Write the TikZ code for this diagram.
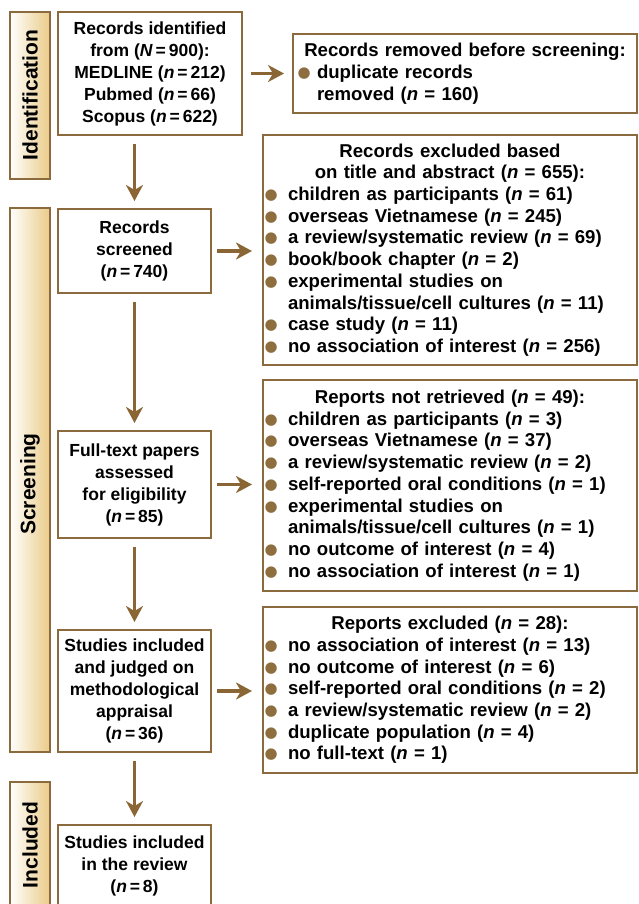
\documentclass[tikz,border=0pt]{standalone}
\usepackage{fontspec}
\setmainfont{Liberation Sans}
\newfontfamily\dotfont{DejaVu Sans}
\usetikzlibrary{arrows.meta}

\definecolor{framebrown}{HTML}{8B6B3E}
\definecolor{arrowbrown}{HTML}{8A6634}
\definecolor{dotbrown}{HTML}{8E6E3F}
\definecolor{bartan}{HTML}{EACB88}

% round brown bullet and a bulleted line for the exclusion lists
\newcommand\bulletdot{\raisebox{1pt}{\textcolor{dotbrown}{\dotfont\fontsize{15}{15}\selectfont ●}}}
\newcommand\dotitem[2][23pt]{\par\noindent\makebox[#1][l]{\hspace{-0.5pt}\bulletdot}#2\par}
\newcommand\wrapline[1][23pt]{\\\hspace*{#1}}

\tikzset{
  stage/.style={draw=framebrown, line width=2pt, left color=white, right color=bartan},
  stagelabel/.style={rotate=90, font=\fontsize{21}{24}\selectfont\bfseries},
  flowbox/.style={draw=framebrown, line width=2pt, fill=white, align=center,
    inner xsep=1pt, minimum width=153pt, font=\fontsize{17.5}{22}\selectfont\bfseries},
  notebox/.style={draw=framebrown, line width=2pt, fill=white, align=left,
    inner xsep=2pt, inner ysep=2pt, text width=370pt, font=\fontsize{18.6}{21.7}\selectfont\bfseries},
  flow/.style={draw=arrowbrown, line width=3.5pt, -{Stealth[length=16pt,width=17pt,inset=5pt]},
    shorten <=8pt, shorten >=7pt},
  sideflow/.style={flow, shorten <=5pt, shorten >=10pt},
}

\begin{document}
\begin{tikzpicture}[x=1pt, y=-1pt]
  \useasboundingbox (0,0) rectangle (638,904);
  \clip (0,0) rectangle (638,904);

  % stage bars on the left
  \path[stage] (10,12) rectangle (50,179);
  \path[stage] (10,208) rectangle (50,752);
  \path[stage] (10,782) rectangle (50,912);
  \node[stagelabel] (ident) at (30,95) {Identification};
  \node[stagelabel] (screen) at (30,484) {Screening};
  \node[stagelabel] (incl) at (30,845) {Included};

  % main flow
  \node[flowbox, minimum width=184pt, minimum height=123pt] (idbox) at (150,73.5)
    {Records identified\\from (\textit{N}\,=\,900):\\MEDLINE (\textit{n}\,=\,212)\\Pubmed (\textit{n}\,=\,66)\\Scopus (\textit{n}\,=\,622)};
  \node[flowbox, minimum height=84pt] (scrbox) at (134.5,251)
    {Records\\screened\\(\textit{n}\,=\,740)};
  \node[flowbox, minimum height=107pt] (ftbox) at (134.5,484.5)
    {Full-text papers\\assessed\\for eligibility\\(\textit{n}\,=\,85)};
  \node[flowbox, minimum height=122pt] (apprbox) at (134.5,691)
    {Studies included\\and judged on\\methodological\\appraisal\\(\textit{n}\,=\,36)};
  \node[flowbox, minimum height=82pt] (revbox) at (134.5,866)
    {Studies included\\in the review\\(\textit{n}\,=\,8)};

  % exclusion boxes
  \node[notebox, text width=334pt, inner xsep=5pt, minimum height=79pt] (removed) at (465,73.5)
    {{\centering Records removed before screening:\par}
     \dotitem[19pt]{duplicate records\wrapline[19pt]removed (\textit{n} = 160)}};
  \node[notebox, minimum height=230pt] (excluded) at (450,250)
    {{\centering Records excluded based\\on title and abstract (\textit{n} = 655):\par}
     \dotitem{children as participants (\textit{n} = 61)}
     \dotitem{overseas Vietnamese (\textit{n} = 245)}
     \dotitem{a review/systematic review (\textit{n} = 69)}
     \dotitem{book/book chapter (\textit{n} = 2)}
     \dotitem{experimental studies on\wrapline animals/tissue/cell cultures (\textit{n} = 11)}
     \dotitem{case study (\textit{n} = 11)}
     \dotitem{no association of interest (\textit{n} = 256)}};
  \node[notebox, minimum height=211pt] (notret) at (450,485.5)
    {{\centering Reports not retrieved (\textit{n} = 49):\par}
     \dotitem{children as participants (\textit{n} = 3)}
     \dotitem{overseas Vietnamese (\textit{n} = 37)}
     \dotitem{a review/systematic review (\textit{n} = 2)}
     \dotitem{self-reported oral conditions (\textit{n} = 1)}
     \dotitem{experimental studies on\wrapline animals/tissue/cell cultures (\textit{n} = 1)}
     \dotitem{no outcome of interest (\textit{n} = 4)}
     \dotitem{no association of interest (\textit{n} = 1)}};
  \node[notebox, minimum height=166pt] (repexcl) at (450,690)
    {{\centering Reports excluded (\textit{n} = 28):\par}
     \dotitem{no association of interest (\textit{n} = 13)}
     \dotitem{no outcome of interest (\textit{n} = 6)}
     \dotitem{self-reported oral conditions (\textit{n} = 2)}
     \dotitem{a review/systematic review (\textit{n} = 2)}
     \dotitem{duplicate population (\textit{n} = 4)}
     \dotitem{no full-text (\textit{n} = 1)}};

  % arrows down
  \draw[flow] (idbox.south -| scrbox.north) -- (scrbox.north);
  \draw[flow] (scrbox.south) -- (ftbox.north);
  \draw[flow] (ftbox.south) -- (apprbox.north);
  \draw[flow] (apprbox.south) -- (revbox.north);

  % arrows to the side
  \draw[flow, shorten >=8pt] (idbox.east) -- (removed.west);
  \draw[sideflow] (scrbox.east) -- (scrbox.east -| excluded.west);
  \draw[sideflow] (ftbox.east) -- (ftbox.east -| notret.west);
  \draw[sideflow] (apprbox.east) -- (apprbox.east -| repexcl.west);
\end{tikzpicture}
\end{document}
